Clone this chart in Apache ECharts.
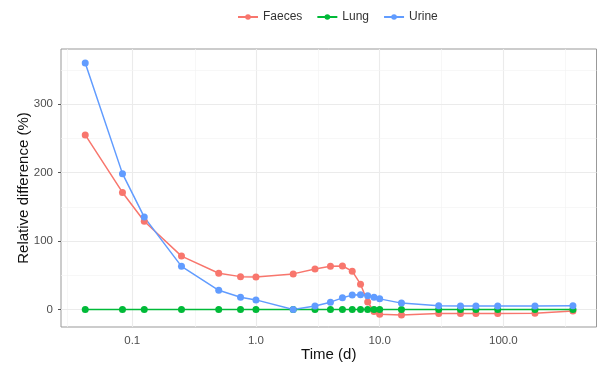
<!DOCTYPE html>
<html>
<head>
<meta charset="utf-8">
<script src="https://cdn.jsdelivr.net/npm/echarts@6/dist/echarts.min.js"></script>
<style>html,body{margin:0;padding:0;background:#fff}#c{width:598px;height:365px}</style>
</head>
<body>
<div id="c"></div>
<script>
const times = [1/24, 2/24, 3/24, 6/24, 0.5, 0.75, 1, 2, 3, 4, 5, 6, 7, 8, 9, 10, 15, 30, 45, 60, 90, 180, 365];
const faeces = [255, 171, 129, 78, 53, 48, 47.5, 52, 59, 63, 63.5, 56, 37, 11, -3, -7, -8, -6, -6, -6, -6, -5.5, -2.3];
const lung   = [0, 0, 0, 0, 0, 0, 0, 0, 0, 0, 0, 0, 0, 0, 0, 0, 0, 0, 0, 0, 0, 0, 0];
const urine  = [360, 198.5, 135, 63, 28, 18, 14, 0, 5, 10.7, 17, 21, 21.4, 20, 18, 15.5, 9.3, 5.4, 5, 5, 5, 5, 5.5];
const xTicks = [0.1, 1, 10, 100];
const xMinor = [0.0316, 0.316, 3.162, 31.62, 316.2];
const yTicks = [0, 100, 200, 300];
const yMinor = [50, 150, 250, 350];
const seriesNames = ['Faeces', 'Lung', 'Urine'];
const colors = ['#F8766D', '#00BA38', '#619CFF'];

const pair = arr => times.map((t, i) => [t, arr[i]]);
const major = {color: '#EBEBEB', width: 1.1, type: 'solid'};
const minor = {color: '#F4F4F4', width: 0.7, type: 'solid'};
const gridLines = [];
xTicks.forEach(v => gridLines.push({xAxis: v, lineStyle: major}));
xMinor.forEach(v => gridLines.push({xAxis: v, lineStyle: minor}));
yTicks.forEach(v => gridLines.push({yAxis: v, lineStyle: major}));
yMinor.forEach(v => gridLines.push({yAxis: v, lineStyle: minor}));

const chart = echarts.init(document.getElementById('c'), null, {renderer: 'canvas'});
const mk = (name, data, color) => ({
  name, type: 'line', data: pair(data), color,
  symbol: 'circle', symbolSize: 7, showSymbol: true,
  lineStyle: {width: 1.5, color}, itemStyle: {color},
  emphasis: {disabled: true}, z: 3
});
chart.setOption({
  animation: false,
  textStyle: {fontFamily: 'Liberation Sans, Arial, sans-serif'},
  legend: {
    data: seriesNames, top: 6, left: 232, itemWidth: 20, itemHeight: 7, itemGap: 14,
    textStyle: {fontSize: 12, color: '#333'}
  },
  grid: {left: 61, right: 1.5, top: 49, bottom: 38, show: true, borderColor: '#999', borderWidth: 1,
    backgroundColor: 'transparent', outerBoundsMode: 'none', containLabel: false},
  xAxis: {
    type: 'log', logBase: 10, min: 0.02654, max: 566,
    name: 'Time (d)', nameLocation: 'middle', nameGap: 20, nameMoveOverlap: false,
    nameTextStyle: {fontSize: 15, color: '#111'},
    axisLine: {show: false},
    splitLine: {show: false},
    axisTick: {show: true, length: 3, lineStyle: {color: '#555'}, customValues: xTicks},
    axisLabel: {customValues: xTicks, fontSize: 11.5, color: '#4D4D4D', margin: 8,
      formatter: v => v < 1 ? String(v) : Number(v).toFixed(1)}
  },
  yAxis: {
    type: 'value', min: -25.6, max: 380.6,
    name: 'Relative difference (%)', nameLocation: 'middle', nameGap: 30, nameMoveOverlap: false,
    nameTextStyle: {fontSize: 15, color: '#111'},
    axisLine: {show: false},
    splitLine: {show: false},
    axisTick: {show: true, length: 3, lineStyle: {color: '#555'}, customValues: yTicks},
    axisLabel: {customValues: yTicks, fontSize: 11.5, color: '#4D4D4D', margin: 8}
  },
  series: [
    {type: 'line', name: 'grid', data: [], silent: true, z: 1,
      markLine: {silent: true, z: 1, symbol: 'none', label: {show: false}, animation: false, data: gridLines}},
    mk('Faeces', faeces, colors[0]),
    mk('Lung', lung, colors[1]),
    mk('Urine', urine, colors[2])
  ]
});
</script>
</body>
</html>
